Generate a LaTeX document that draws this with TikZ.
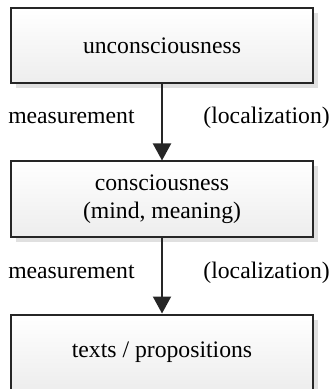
\documentclass[tikz,border=0pt]{standalone}
\usepackage{fontspec}
\setmainfont{Liberation Serif}
\usetikzlibrary{arrows.meta, positioning, shadows}
\tikzset{
  stage/.style={rectangle, draw=black!85, line width=1pt,
                top color=white, bottom color=black!7,
                drop shadow={shadow xshift=2.5pt, shadow yshift=-2.5pt,
                             fill=black!12, opacity=1},
                minimum width=150.75pt, minimum height=37.5pt,
                align=center, font=\fontsize{11.85pt}{14pt}\selectfont},
  lbl/.style={font=\fontsize{11.85pt}{14pt}\selectfont, inner sep=0pt},
  arr/.style={-{Triangle[width=9pt, length=8.5pt]}, line width=1pt, draw=black!85},
}
\begin{document}
\begin{tikzpicture}[node distance=38pt]
  \useasboundingbox (0,0) rectangle (166.5pt,-194.5pt);
  % stages
  \node[stage] (unc) at (81pt,-23pt) {unconsciousness};
  \node[stage, below=of unc] (con) {consciousness\\(mind, meaning)};
  \node[stage, below=of con] (txt) {texts / propositions};
  % arrows
  \draw[arr] (unc) -- coordinate[pos=0.5] (m1) (con);
  \draw[arr] (con) -- coordinate[pos=0.5] (m2) (txt);
  % labels
  \node[lbl, base left=13.5pt of m1, yshift=-0.5pt] {measurement};
  \node[lbl, base right=20.5pt of m1, yshift=-0.5pt] {(localization)};
  \node[lbl, base left=13.5pt of m2, yshift=-1.5pt] {measurement};
  \node[lbl, base right=20.5pt of m2, yshift=-1.5pt] {(localization)};
\end{tikzpicture}
\end{document}
